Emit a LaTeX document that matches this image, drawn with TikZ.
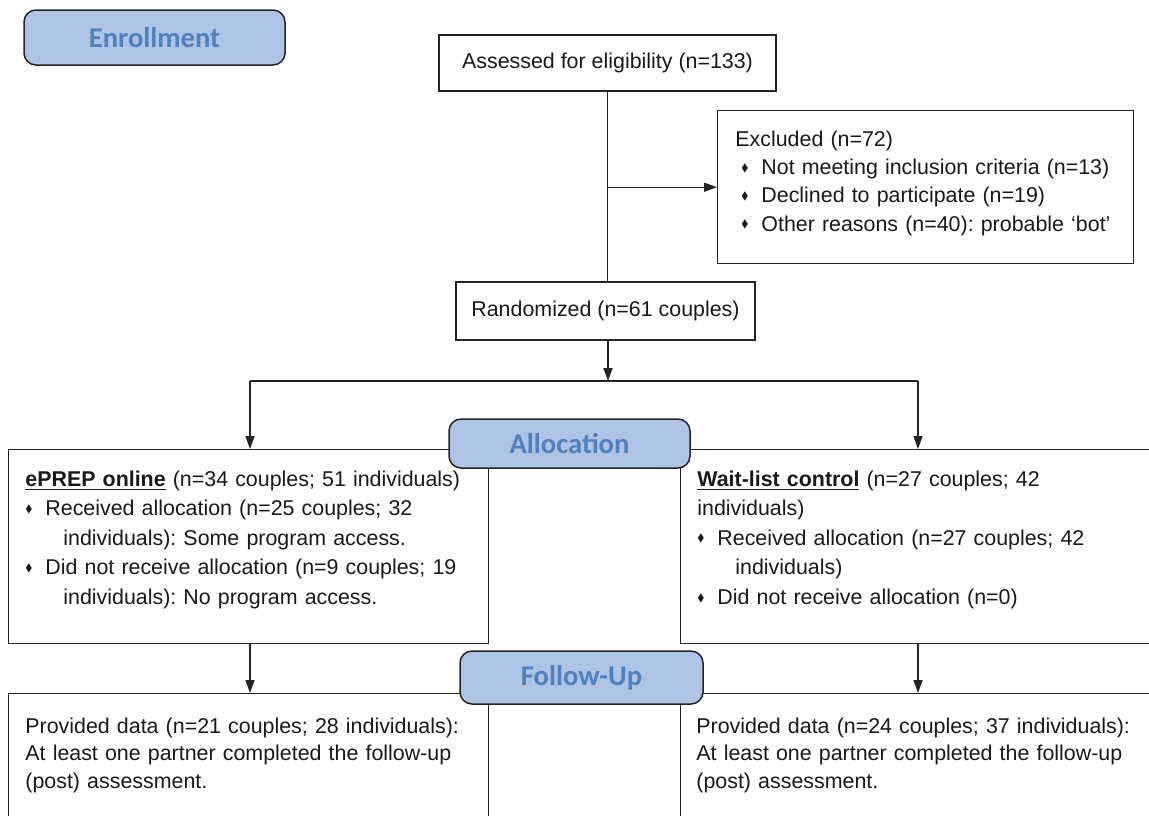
\documentclass[tikz,border=0pt]{standalone}
\usepackage{amssymb}
\usepackage{fontspec}
\setmainfont{Liberation Sans}
\newfontfamily\phasefont{Carlito}
\usepackage{tikz}
\usetikzlibrary{arrows.meta,positioning}
\definecolor{PhaseFill}{RGB}{174,196,228}
\definecolor{PhaseText}{RGB}{79,129,189}
\definecolor{LineDark}{RGB}{35,35,35}
\newcommand{\bul}{\raisebox{0.3ex}{\scalebox{0.5}{$\blacklozenge$}}}
\newcommand{\bitem}{\makebox[10pt][l]{\bul}}
\frenchspacing

\begin{document}
\begin{tikzpicture}[x=0.5pt,y=-0.5pt,
  box/.style={draw=LineDark,line width=0.7pt,fill=white,inner sep=0pt,
    font=\fontsize{10.7}{15}\selectfont,text=black!90},
  txt/.style={anchor=base west,inner sep=0pt,align=left,text=black!90},
  phase/.style={draw=LineDark,line width=0.75pt,fill=PhaseFill,rounded corners=6pt,inner sep=0pt,
    font=\phasefont\bfseries\fontsize{14.3}{16}\selectfont,text=PhaseText},
  arr/.style={-{Triangle[length=6.5pt,width=4.5pt]},line width=0.7pt,draw=LineDark},
  conn/.style={line width=0.7pt,draw=LineDark}]
  \useasboundingbox (0,0) rectangle (1149,815);
  \clip (0,0) rectangle (1149,815);

  \node[box,minimum width=168.5pt,minimum height=28pt] (assessed) at (607.5,63) {Assessed for eligibility (n=133)};
  \node[box,anchor=north west,minimum width=208pt,minimum height=76.5pt] (excl) at (717,110) {};
  \node[txt,text width=200pt,font=\fontsize{10.7}{14.2}\selectfont] (excltxt) at (735,146)
    {Excluded (n=72)\\
     \hspace*{3pt}\bitem Not meeting inclusion criteria (n=13)\\
     \hspace*{3pt}\bitem Declined to participate (n=19)\\
     \hspace*{3pt}\bitem Other reasons (n=40): probable `bot'};
  \node[box,minimum width=149.5pt,minimum height=29pt] (rand) at (605.5,311) {Randomized (n=61 couples)};

  \node[box,anchor=north west,minimum width=240pt,minimum height=97pt] (epbox) at (8,449) {};
  \node[box,anchor=north west,minimum width=240pt,minimum height=97pt] (wlbox) at (680,449) {};
  \node[txt,text width=232pt,font=\fontsize{10.7}{14.8}\selectfont] (eptxt) at (25,486)
    {\underline{\textbf{ePREP online}} (n=34 couples; 51 individuals)\\
     \bitem Received allocation (n=25 couples; 32\\
     \hspace*{19pt}individuals): Some program access.\\
     \bitem Did not receive allocation (n=9 couples; 19\\
     \hspace*{19pt}individuals): No program access.};
  \node[txt,text width=225pt,font=\fontsize{10.7}{14.8}\selectfont] (wltxt) at (697,486)
    {\underline{\textbf{Wait-list control}} (n=27 couples; 42\\
     individuals)\\
     \bitem Received allocation (n=27 couples; 42\\
     \hspace*{19pt}individuals)\\
     \bitem Did not receive allocation (n=0)};

  \node[box,anchor=north west,minimum width=240pt,minimum height=70pt] (epfu) at (8,693) {};
  \node[box,anchor=north west,minimum width=240pt,minimum height=70pt] (wlfu) at (680,693) {};
  \node[txt,text width=232pt,font=\fontsize{10.7}{13.8}\selectfont] (epfutxt) at (25,733)
    {Provided data (n=21 couples; 28 individuals):\\
     At least one partner completed the follow-up\\
     (post) assessment.};
  \node[txt,text width=225pt,font=\fontsize{10.7}{13.8}\selectfont] (wlfutxt) at (696,733)
    {Provided data (n=24 couples; 37 individuals):\\
     At least one partner completed the follow-up\\
     (post) assessment.};

  \coordinate (exsplit) at (assessed.south |- excl.west);
  \coordinate (split) at (608,381);
  \coordinate (lsplit) at (250,381);
  \coordinate (rsplit) at (918,381);
  \draw[conn] (assessed.south) -- (assessed.south |- rand.north);
  \draw[arr] (exsplit) -- (excl.west);
  \draw[arr] (rand.south -| split) -- (split);
  \draw[conn] (lsplit) -- (rsplit);
  \draw[arr] (lsplit) -- (lsplit |- epbox.north);
  \draw[arr] (rsplit) -- (rsplit |- wlbox.north);
  \draw[arr] (lsplit |- epbox.south) -- (lsplit |- epfu.north);
  \draw[arr] (rsplit |- wlbox.south) -- (rsplit |- wlfu.north);

  \node[phase,minimum width=130.5pt,minimum height=27.5pt] (enroll) at (154.5,37.5) {Enrollment};
  \node[phase,minimum width=120.5pt,minimum height=24.5pt] (alloc) at (569.5,443.5) {Allocation};
  \node[phase,minimum width=121.5pt,minimum height=26.5pt] (follow) at (581.5,677.5) {Follow-Up};
\end{tikzpicture}
\end{document}
